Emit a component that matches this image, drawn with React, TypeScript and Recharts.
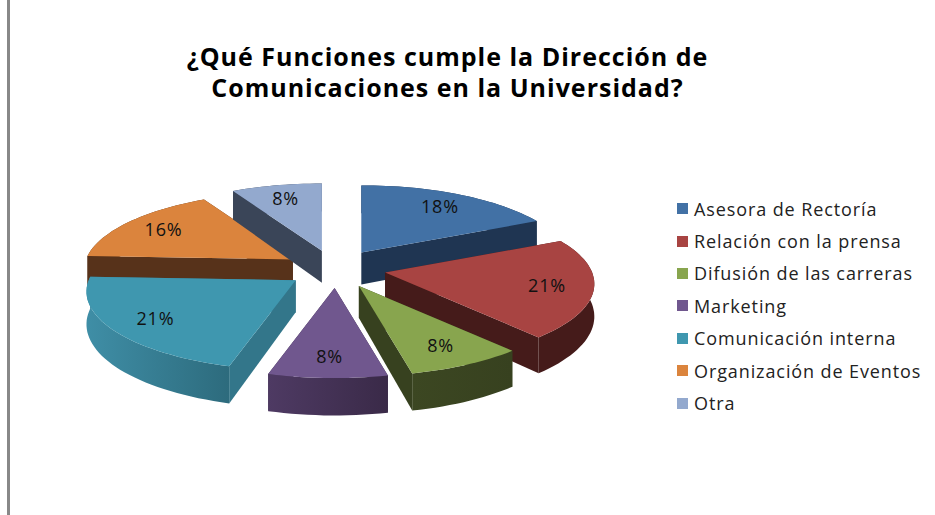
import { PieChart, Pie, Legend } from 'recharts';

const categories = [
  'Asesora de Rectoría',
  'Relación con la prensa',
  'Difusión de las carreras',
  'Marketing',
  'Comunicación interna',
  'Organización de Eventos',
  'Otra',
];
const values = [18, 21, 8, 8, 21, 16, 8];
const titleLines = ['¿Qué Funciones cumple la Dirección de', 'Comunicaciones en la Universidad?'];

// Office 2007 palette: top face, radial walls, outer wall light -> dark
const TOP = ['#4271a5', '#a84442', '#88a54e', '#70578e', '#3f97af', '#db843d', '#93a9ce'];
const WALL = ['#1f3552', '#451b1a', '#37411f', '#3a2a48', '#33768a', '#57321a', '#3a4558'];
const OUTER_LIGHT = ['#1f3552', '#451b1a', '#3c4722', '#4e3a63', '#3f8ea6', '#57321a', '#3a4558'];
const OUTER_DARK = ['#1f3552', '#451b1a', '#37411f', '#3a2a48', '#2d6b7d', '#57321a', '#3a4558'];

// slices are painted in data order, so start at orange to get teal on top of it
const paintOrder = [5, 6, 0, 1, 2, 3, 4];
const pieData = paintOrder.map((i) => ({ name: categories[i], value: values[i], idx: i }));

const ROTATE = 2;
const orangeStart = values.slice(0, 5).reduce((a, b) => a + b, 0) * 3.6 - ROTATE;
const START_ANGLE = 90 - orangeStart;

const TILT = 0.372;
const PERSPECTIVE = 0.145;
const EXPLODE_X = 50;
const EXPLODE_Y = 19;
const DEPTH = 32;

const rad = (d: number) => (d * Math.PI) / 180;

const apexOf = (cx: number, cy: number, mid: number) => [
  cx + EXPLODE_X * Math.sin(rad(mid)),
  cy - EXPLODE_Y * Math.cos(rad(mid)),
];

const project = (apex: number[], r: number, angle: number, frac = 1) => {
  // the picture's perspective turns back edges less than front edges
  const cw = angle + 1 + Math.cos(rad(angle));
  const s = 1 / (1 + PERSPECTIVE * frac * Math.cos(rad(cw)));
  return [
    apex[0] + r * frac * Math.sin(rad(cw)) * s,
    apex[1] - r * TILT * frac * Math.cos(rad(cw)) * s,
    s,
  ];
};

const poly = (pts: number[][]) =>
  pts.map((p, i) => `${i ? 'L' : 'M'}${p[0].toFixed(1)} ${p[1].toFixed(1)}`).join(' ') + ' Z';

const drop = (p: number[]) => [p[0], p[1] + DEPTH * (p[2] ?? 1)];

const Slice3D = (props: any) => {
  const { cx, cy, outerRadius, startAngle, endAngle, payload } = props;
  const idx = payload?.idx ?? props.idx;
  const a0 = 90 - startAngle;
  const a1 = 90 - endAngle;
  const apex = apexOf(cx, cy, (a0 + a1) / 2);
  const arc: number[][] = [];
  const steps = Math.max(4, Math.ceil(Math.abs(a1 - a0) / 2));
  for (let i = 0; i <= steps; i++) {
    arc.push(project(apex, outerRadius, a0 + ((a1 - a0) * i) / steps));
  }
  const first = arc[0];
  const last = arc[arc.length - 1];
  const walls = [
    { d: poly([apex, first, drop(first), drop(apex)]), y: (apex[1] + first[1]) / 2, fill: WALL[idx] },
    { d: poly([apex, last, drop(last), drop(apex)]), y: (apex[1] + last[1]) / 2, fill: WALL[idx] },
    {
      d: poly([...arc, ...arc.map(drop).reverse()]),
      y: arc[Math.floor(arc.length / 2)][1],
      fill: `url(#outer-${idx})`,
    },
  ].sort((a, b) => a.y - b.y);
  return (
    <g>
      <defs>
        <linearGradient id={`outer-${idx}`} x1="0" y1="0" x2="1" y2="0">
          <stop offset="0" stopColor={OUTER_LIGHT[idx]} />
          <stop offset="1" stopColor={OUTER_DARK[idx]} />
        </linearGradient>
      </defs>
      {walls.map((w, i) => (
        <path key={i} d={w.d} fill={w.fill} />
      ))}
      <path d={poly([apex, ...arc])} fill={TOP[idx]} />
    </g>
  );
};

const renderLabel = (props: any) => {
  const { cx, cy, midAngle, outerRadius, value } = props;
  const mid = 90 - midAngle;
  const p = project(apexOf(cx, cy, mid), outerRadius, mid, 0.78);
  return (
    <text
      x={p[0]}
      y={p[1]}
      textAnchor="middle"
      dominantBaseline="central"
      fontFamily="Open Sans"
      fontSize={18}
      letterSpacing={0.8}
      fill="#111"
    >
      {`${value}%`}
    </text>
  );
};

const renderLegend = () => (
  <div style={{ fontFamily: 'Open Sans', fontSize: 18, letterSpacing: 0.9, color: '#222' }}>
    {categories.map((c, i) => (
      <div key={c} style={{ display: 'flex', alignItems: 'center', height: 32.4 }}>
        <span style={{ width: 11, height: 11, background: TOP[i], marginRight: 6 }} />
        <span style={{ whiteSpace: 'nowrap' }}>{c}</span>
      </div>
    ))}
  </div>
);

export default function App() {
  return (
    <div style={{ position: 'fixed', left: 0, top: 0, width: 935, height: 515, background: '#fff' }}>
      <div style={{ position: 'absolute', left: 7, top: 0, width: 3, height: 515, background: '#888' }} />
      <PieChart width={935} height={515} margin={{ top: 0, right: 0, bottom: 0, left: 0 }}>
        {titleLines.map((line, i) => (
          <text
            key={line}
            x={447.5}
            y={66 + i * 31}
            textAnchor="middle"
            fontFamily="Open Sans"
            fontWeight={700}
            fontSize={25}
            letterSpacing={1}
            fill="#000"
          >
            {line}
          </text>
        ))}
        <Pie
          data={pieData}
          dataKey="value"
          nameKey="name"
          cx={336}
          cy={269}
          outerRadius={207}
          startAngle={START_ANGLE}
          endAngle={START_ANGLE - 360}
          shape={Slice3D}
          label={renderLabel}
          labelLine={false}
          isAnimationActive={false}
        />
        <Legend
          content={renderLegend}
          wrapperStyle={{ position: 'absolute', left: 677, top: 192.5, width: 258, bottom: 'auto' }}
        />
      </PieChart>
    </div>
  );
}
